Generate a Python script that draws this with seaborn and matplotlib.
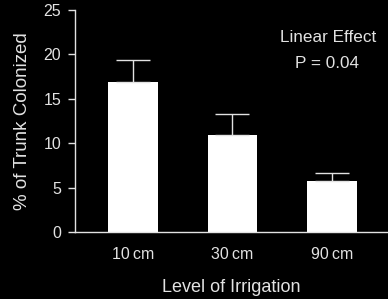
import matplotlib
matplotlib.use("Agg")
import matplotlib.pyplot as plt
import seaborn as sns
import pandas as pd

categories = ["10\u2009cm", "30\u2009cm", "90\u2009cm"]
values = [16.9, 10.9, 5.7]
errors = [2.5, 2.4, 0.95]
yticks = [0, 5, 10, 15, 20, 25]

sns.set_style("dark")
plt.rcParams['font.family'] = ['Liberation Sans', 'DejaVu Sans']
fg = "#e2e2e2"

fig = plt.figure(figsize=(3.88, 2.99), dpi=100, facecolor="black")
ax = fig.add_axes([75/388, (299-232)/299, 1 - 75/388, (232-10)/299])
ax.set_facecolor("black")

df = pd.DataFrame({"cat": categories, "val": values})
sns.barplot(data=df, x="cat", y="val", color="white", saturation=1, width=0.5,
            errorbar=None, ax=ax, edgecolor="none")
ax.errorbar(range(len(values)), values, yerr=[[0]*len(errors), errors], fmt="none",
            ecolor=fg, elinewidth=1, capsize=12, capthick=1)

ax.set_xlim(-0.58, 2.56)
ax.set_ylim(0, 25)
ax.set_yticks(yticks)
ax.grid(False)
for s in ["top", "right"]:
    ax.spines[s].set_visible(False)
for s in ["left", "bottom"]:
    ax.spines[s].set_visible(True)
    ax.spines[s].set_color(fg)
    ax.spines[s].set_linewidth(1)
ax.tick_params(axis="y", colors=fg, length=5, width=1, labelsize=11.5, left=True, pad=5)
ax.tick_params(axis="x", colors=fg, length=0, labelsize=11.5, pad=11)
ax.set_xlabel("Level of Irrigation", color=fg, fontsize=13, labelpad=12)
ax.set_ylabel("% of Trunk Colonized", color=fg, fontsize=13.5, labelpad=9)
ax.text(0.81, 0.875, "Linear Effect", transform=ax.transAxes, color=fg, fontsize=12.3, ha="center", va="center")
ax.text(0.805, 0.76, "P = 0.04", transform=ax.transAxes, color=fg, fontsize=12.3, ha="center", va="center")

fig.savefig("out.png", dpi=100, facecolor="black")
